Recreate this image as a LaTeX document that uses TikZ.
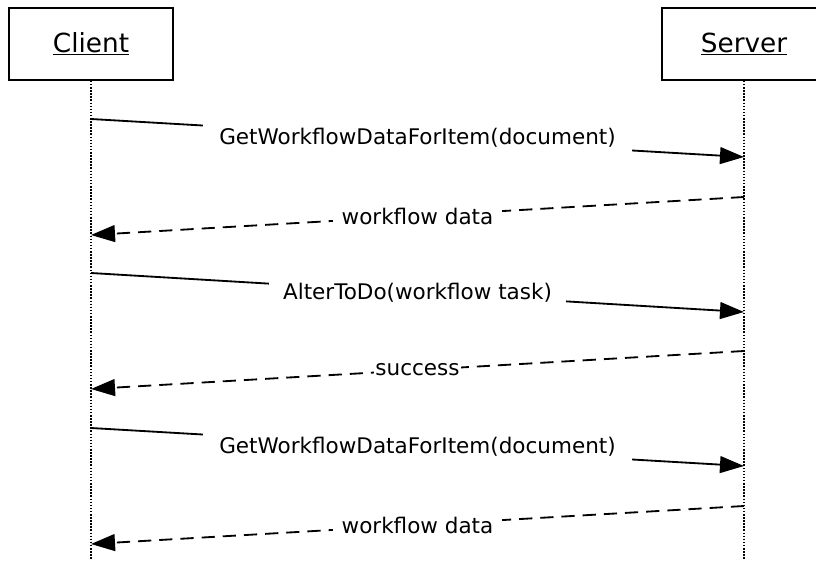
\documentclass[tikz,border=0pt]{standalone}
\usepackage{fontspec}
\setmainfont{DejaVu Sans}
\usetikzlibrary{calc}
\usetikzlibrary{positioning}
\usetikzlibrary{arrows.meta}

\tikzset{
	actor/.style = {draw, line width=1.2pt, minimum width=4.1cm, minimum height=1.8cm, font=\fontsize{18.7}{22}\selectfont},
	lifeline/.style = {line width=1.2pt, dash pattern=on 1.1pt off 1.1pt},
	call/.style = {line width=1.3pt, -{Triangle[length=0.6cm, width=0.42cm]}},
	reply/.style = {call, dash pattern=on 0.33cm off 0.2cm},
	msg/.style = {fill=white, inner xsep=0.22cm, inner ysep=3pt, font=\fontsize{15.3}{18}\selectfont}
}

\begin{document}
\begin{tikzpicture}[x=0.025cm, y=-0.025cm]
		\useasboundingbox (0, 0) rectangle (816, 560);
		\clip (0, 0) rectangle (816, 560);

		\node[actor] (client) at (91, 44) {\underline{Client}};
		\node[actor] (server) at (744, 44) {\underline{Server}};

		\coordinate (CE) at (91, 560) {};
		\coordinate (SE) at (744, 560) {};

		\coordinate (C1) at (91, 119) {};
		\coordinate (S1) at (744, 157) {};
		\coordinate (S2) at (744, 197) {};
		\coordinate (C2) at (91, 235) {};
		\coordinate (C3) at (91, 273) {};
		\coordinate (S3) at (744, 312) {};
		\coordinate (S4) at (744, 351) {};
		\coordinate (C4) at (91, 389) {};
		\coordinate (C5) at (91, 428) {};
		\coordinate (S5) at (744, 466) {};
		\coordinate (S6) at (744, 506) {};
		\coordinate (C6) at (91, 544) {};

		\draw[lifeline] (client) -- (CE);
		\draw[lifeline] (server) -- (SE);

		\draw[call] (C1) -- node[msg, inner xsep=0.4cm] {GetWorkflowDataForItem(document)} (S1);
		\draw[reply] (S2) -- node[msg] {workflow data} (C2);
		\draw[call] (C3) -- node[msg, inner xsep=0.35cm] {AlterToDo(workflow task)} (S3);
		\draw[reply] (S4) -- node[msg, inner xsep=1pt] {success} (C4);
		\draw[call] (C5) -- node[msg, inner xsep=0.4cm] {GetWorkflowDataForItem(document)} (S5);
		\draw[reply] (S6) -- node[msg] {workflow data} (C6);
\end{tikzpicture}
\end{document}
